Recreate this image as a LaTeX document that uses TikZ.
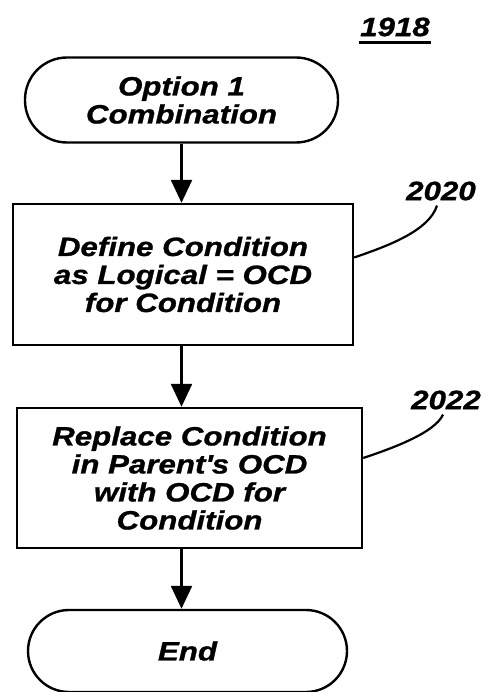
\documentclass[tikz,border=0pt]{standalone}
\usepackage{fontspec}
\newfontfamily\figfont{Liberation Sans}[FakeStretch=1.18, BoldItalicFeatures={FakeBold=1}]
\usepackage{tikz}
\usetikzlibrary{positioning, arrows.meta}
\tikzset{
every node/.style={font=\figfont\bfseries\itshape\fontsize{26.5}{28}\selectfont}, % slanted bold sans for all text
node distance=174pt, % vertical step between centres. Change per node if necessary.
}

\begin{document}
\begin{tikzpicture}[x=1pt, y=-1pt, line width=2.4pt,
    term/.style = {draw, rounded corners=42pt, minimum width=313pt, minimum height=85pt, align=center},
    proc/.style = {draw, minimum width=340pt, minimum height=141pt, align=center},
    arr/.style = {-{Triangle[length=23pt, width=21pt]}},
    lead/.style = {line width=2.2pt},
    num/.style = {inner sep=4pt}]
    % flow chart for the option 1 combination
    \useasboundingbox (0,0) rectangle (485,692);
    \node[term] (option) at (181.5,100) {Option 1\\Combination};
    \node[proc] (define) [below of=option, node distance=174.5pt, xshift=1.5pt] {Define Condition\\as Logical = OCD\\for Condition};
    \node[proc] (replace) [below of=define, node distance=203.5pt, xshift=6.5pt, minimum width=345pt, minimum height=140pt] {Replace Condition\\in Parent\textquotesingle s OCD\\with OCD for\\Condition};
    \node[term] (end) [below of=replace, node distance=173pt, xshift=-2pt, minimum width=319pt, minimum height=82pt, rounded corners=41pt] {End};

    \node[num, inner sep=0pt] (fig) at (395,27) {1918};
    \node[num] (l2020) at (441,191) {2020};
    \node[num] (l2022) at (446,400) {2022};

    \draw [arr] (option.south) -- (option.south |- define.north);
    \draw [arr] (option.south |- define.south) -- (option.south |- replace.north);
    \draw [arr] (option.south |- replace.south) -- (option.south |- end.north);

    \draw [lead] ([yshift=17pt]define.east) .. controls +(35,-12) and +(-8,25) .. ([xshift=-4pt]l2020.south);
    \draw [lead] ([yshift=20pt]replace.east) .. controls +(30,-10) and +(-8,18) .. ([xshift=-3pt]l2022.south);
    \draw [lead] ([yshift=-5pt]fig.south west) -- ([yshift=-5pt]fig.south east);
\end{tikzpicture}
\end{document}
